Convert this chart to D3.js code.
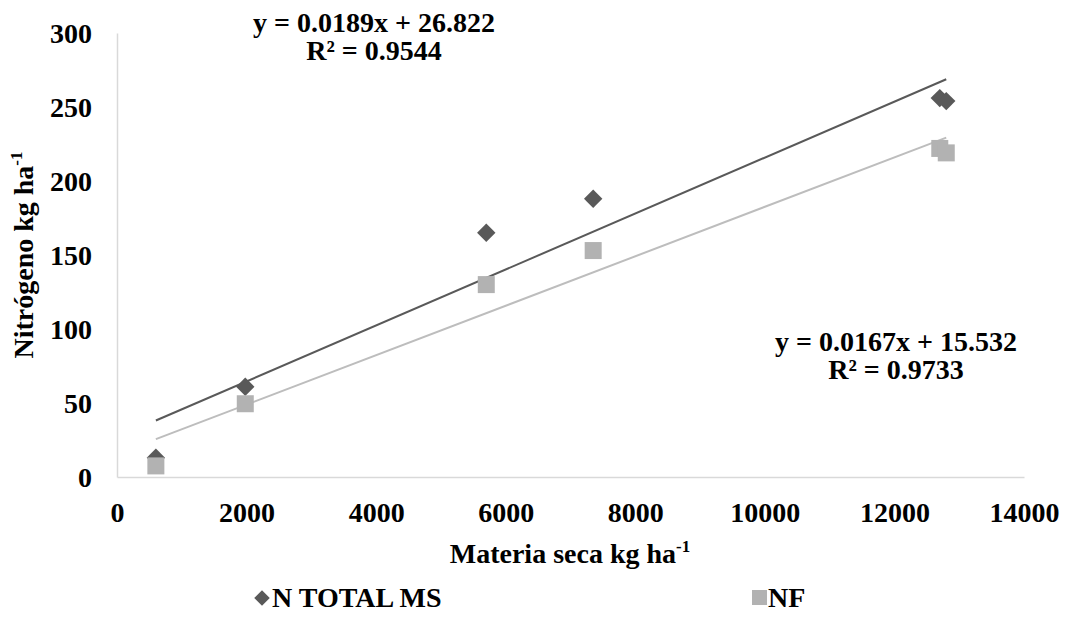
<!DOCTYPE html>
<html>
<head>
<meta charset="utf-8">
<script src="https://cdn.jsdelivr.net/npm/d3@7"></script>
<style>
  html, body { margin: 0; padding: 0; background: #fff; }
  svg { display: block; }
  text { font-family: "Liberation Serif", "Times New Roman", serif; font-weight: bold; fill: #000; }
</style>
</head>
<body>
<svg id="chart" width="1065" height="642"></svg>
<script>
// ---- data ----
const seriesNames = ["N TOTAL MS", "NF"];
const materiaSeca = [600, 1980, 5700, 7350, 12700, 12800];
const nTotalMS = [13, 61, 165, 188, 256, 254];
const nf = [7.5, 49.5, 130, 153, 222, 219];
const trendSlope = [0.0189, 0.0167];
const trendIntercept = [26.822, 15.532];
const equationLabels = [["y = 0.0189x + 26.822", "R² = 0.9544"], ["y = 0.0167x + 15.532", "R² = 0.9733"]];
const xTicks = [0, 2000, 4000, 6000, 8000, 10000, 12000, 14000];
const yTicks = [0, 50, 100, 150, 200, 250, 300];

const svg = d3.select("#chart");
const x = d3.scaleLinear().domain([0, 14000]).range([117, 1024]);
const y = d3.scaleLinear().domain([0, 300]).range([477, 33]);

const axisColor = "#D9D9D9";
const dark = "#595959";
const light = "#B2B2B2";
const lightLine = "#BDBDBD";
const fs = 28;
const ff = '"Liberation Serif", "Times New Roman", serif';

// axes
const xAxis = d3.axisBottom(x).tickValues(xTicks).tickSize(0).tickPadding(0).tickFormat(d3.format("d"));
const gx = svg.append("g").attr("transform", `translate(0,${y(0)})`).call(xAxis);
gx.attr("font-family", null).attr("font-size", null);
gx.select(".domain").attr("stroke", axisColor).attr("stroke-width", 1.5);
gx.selectAll("text").attr("dy", null).attr("y", 45).style("font-size", fs + "px")
  .style("font-family", ff).style("font-weight", "bold").attr("fill", "#000");

const yAxis = d3.axisLeft(y).tickValues(yTicks).tickSize(0).tickPadding(0).tickFormat(d3.format("d"));
const gy = svg.append("g").attr("transform", `translate(${x(0)},0)`).call(yAxis);
gy.attr("font-family", null).attr("font-size", null);
gy.select(".domain").attr("stroke", axisColor).attr("stroke-width", 1.5);
gy.selectAll("text").attr("x", -25).attr("dy", "0.34em").style("font-size", fs + "px")
  .style("font-family", ff).style("font-weight", "bold").attr("fill", "#000");

// axis titles
const xt = svg.append("text").attr("x", 570).attr("y", 563).attr("text-anchor", "middle").style("font-size", fs + "px");
xt.append("tspan").text("Materia seca kg ha");
xt.append("tspan").text("-1").style("font-size", "17px").attr("dy", -11);

const yt = svg.append("text").attr("transform", "translate(33,255) rotate(-90)").attr("text-anchor", "middle").style("font-size", fs + "px");
yt.append("tspan").text("Nitrógeno kg ha");
yt.append("tspan").text("-1").style("font-size", "17px").attr("dy", -11);

// trendlines
const seriesData = [nTotalMS, nf];
const lineColors = [dark, lightLine];
const xMin = d3.min(materiaSeca), xMax = d3.max(materiaSeca);
seriesData.forEach((s, i) => {
  const pts = [xMin, xMax].map(v => [v, trendSlope[i] * v + trendIntercept[i]]);
  svg.append("path")
    .attr("d", d3.line().x(d => x(d[0])).y(d => y(d[1]))(pts))
    .attr("stroke", lineColors[i]).attr("stroke-width", 2).attr("fill", "none");
});

// markers
const diamond = d3.symbol().type(d3.symbolSquare).size(13 * 13);
svg.append("g").selectAll("path").data(materiaSeca.map((v, i) => [v, nTotalMS[i]]))
  .join("path")
  .attr("d", diamond)
  .attr("transform", d => `translate(${x(d[0])},${y(d[1])}) rotate(45)`)
  .attr("fill", dark);

svg.append("g").selectAll("rect").data(materiaSeca.map((v, i) => [v, nf[i]]))
  .join("rect")
  .attr("x", d => x(d[0]) - 8.5).attr("y", d => y(d[1]) - 8.5)
  .attr("width", 17).attr("height", 17)
  .attr("fill", light);

// equations (one text block per trendline)
const eqPos = [[374, 32], [896, 351]];
equationLabels.forEach((lines, i) => {
  const t = svg.append("text").attr("text-anchor", "middle").style("font-size", fs + "px");
  lines.forEach((s, j) => {
    t.append("tspan").attr("x", eqPos[i][0]).attr("y", eqPos[i][1] + j * 28).text(s);
  });
});

// legend
const legend = svg.append("g");
legend.append("path").attr("d", d3.symbol().type(d3.symbolSquare).size(11 * 11))
  .attr("transform", "translate(262,598) rotate(45)").attr("fill", dark);
legend.append("text").attr("x", 272).attr("y", 607).style("font-size", fs + "px").text(seriesNames[0]);
legend.append("rect").attr("x", 752).attr("y", 590).attr("width", 15).attr("height", 15).attr("fill", light);
legend.append("text").attr("x", 768).attr("y", 607).style("font-size", fs + "px").text(seriesNames[1]);
</script>
</body>
</html>
